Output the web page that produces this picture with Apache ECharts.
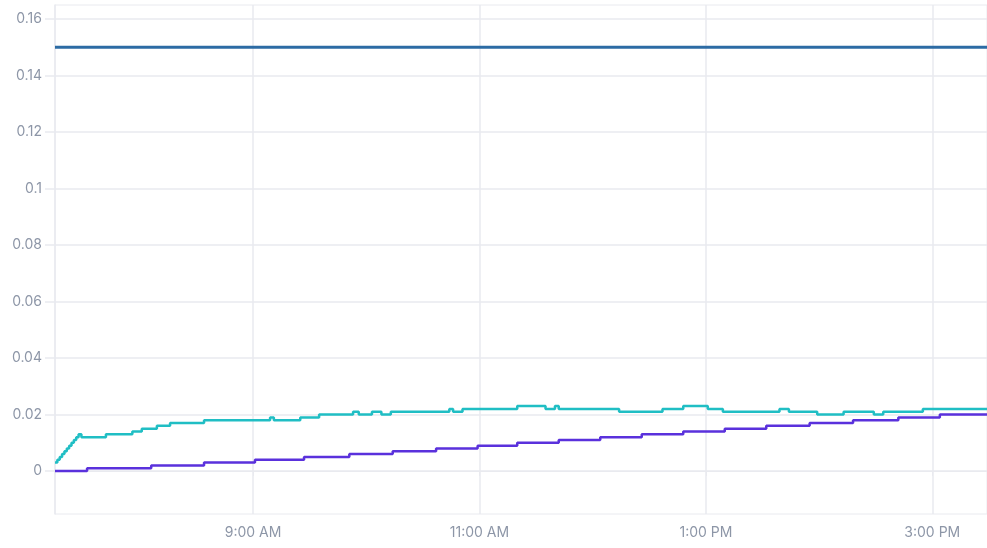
<!DOCTYPE html>
<html>
<head>
<meta charset="utf-8">
<style>
  html, body { margin: 0; padding: 0; background: #fff; }
  #chart { width: 987px; height: 548px; }
</style>
<script src="https://cdn.jsdelivr.net/npm/echarts@6/dist/echarts.min.js"></script>
</head>
<body>
<div id="chart"></div>
<script>
  // time of day for the x axis
  const xStart = '07:15'
  const xEnd = '15:29'
  const xTicks = ['09:00', '11:00', '13:00', '15:00']
  const yTicks = [0, 0.02, 0.04, 0.06, 0.08, 0.1, 0.12, 0.14, 0.16]

  // flat limit line
  const limitTimes = ['07:15', '15:29']
  const limitValues = [0.15, 0.15]

  // teal series (step)
  const tealTimes = [
    '07:15:00', '07:16:15', '07:17:30', '07:18:45', '07:20:00', '07:21:15',
    '07:22:30', '07:23:45', '07:25:00', '07:26:15', '07:27:30',
    '07:29', '07:42', '07:56', '08:01', '08:09', '08:16', '08:34',
    '09:09', '09:11', '09:25', '09:35', '09:53', '09:56', '10:03', '10:08',
    '10:13', '10:44', '10:46', '10:51', '11:20', '11:35', '11:40', '11:42',
    '12:14', '12:37', '12:48', '13:01', '13:09', '13:39', '13:44', '13:59',
    '14:13', '14:29', '14:34', '14:55', '15:29'
  ]
  const tealValues = [
    0.003, 0.004, 0.005, 0.006, 0.007, 0.008,
    0.009, 0.010, 0.011, 0.012, 0.013,
    0.012, 0.013, 0.014, 0.015, 0.016, 0.017, 0.018,
    0.019, 0.018, 0.019, 0.020, 0.021, 0.020, 0.021, 0.020,
    0.021, 0.022, 0.021, 0.022, 0.023, 0.022, 0.023, 0.022,
    0.021, 0.022, 0.023, 0.022, 0.021, 0.022, 0.021, 0.020,
    0.021, 0.020, 0.021, 0.022, 0.022
  ]

  // purple series (step)
  const purpleTimes = [
    '07:15', '07:32', '08:06', '08:34', '09:01', '09:27', '09:51', '10:14',
    '10:37', '10:59', '11:20', '11:42', '12:04', '12:26', '12:48', '13:10',
    '13:32', '13:55', '14:18', '14:42', '15:04', '15:29'
  ]
  const purpleValues = [
    0, 0.001, 0.002, 0.003, 0.004, 0.005, 0.006, 0.007,
    0.008, 0.009, 0.010, 0.011, 0.012, 0.013, 0.014, 0.015,
    0.016, 0.017, 0.018, 0.019, 0.020, 0.020
  ]

  // 'HH:MM[:SS]' -> hours since midnight
  function toHours(s) {
    const p = s.split(':').map(Number)
    return p[0] + p[1] / 60 + (p[2] || 0) / 3600
  }
  function pairs(times, values) {
    return times.map((t, i) => [toHours(t), values[i]])
  }
  function timeLabel(v) {
    let h = Math.floor(v + 1e-9)
    const m = Math.round((v - h) * 60)
    const ap = h >= 12 ? 'PM' : 'AM'
    h = h % 12
    if (h === 0) h = 12
    return h + ':' + (m < 10 ? '0' + m : m) + ' ' + ap
  }

  const gridColor = '#e9eaef'
  const labelColor = '#8d96a7'
  const font = 'Inter, "Noto Sans", sans-serif'

  const chart = echarts.init(document.getElementById('chart'))
  chart.setOption({
    animation: false,
    grid: {
      left: 55,
      right: 0,
      top: 5,
      bottom: 34,
      show: true,
      borderColor: gridColor,
      borderWidth: 1
    },
    xAxis: {
      type: 'value',
      min: toHours(xStart),
      max: toHours(xEnd),
      axisLine: { show: true, lineStyle: { color: gridColor, width: 1 } },
      axisTick: {
        show: true,
        length: 5,
        customValues: xTicks.map(toHours),
        lineStyle: { color: gridColor }
      },
      axisLabel: {
        customValues: xTicks.map(toHours),
        formatter: timeLabel,
        color: labelColor,
        fontSize: 14,
        fontFamily: font,
        margin: 12
      },
      splitLine: { show: true, lineStyle: { color: gridColor, width: 1.5 } }
    },
    yAxis: {
      type: 'value',
      min: -0.0152,
      max: 0.165,
      axisLine: { show: true, lineStyle: { color: gridColor, width: 1.5 } },
      axisTick: {
        show: true,
        length: 10,
        customValues: yTicks,
        lineStyle: { color: gridColor, width: 1.5 }
      },
      axisLabel: {
        customValues: yTicks,
        color: labelColor,
        fontSize: 14,
        fontFamily: font,
        margin: 13
      },
      splitLine: { show: true, lineStyle: { color: gridColor, width: 1.5 } }
    },
    series: [
      {
        type: 'line',
        data: pairs(limitTimes, limitValues),
        showSymbol: false,
        lineStyle: { color: '#2c6ba4', width: 3 }
      },
      {
        type: 'line',
        step: 'end',
        data: pairs(tealTimes, tealValues),
        showSymbol: false,
        lineStyle: { color: '#20bec4', width: 2.5 }
      },
      {
        type: 'line',
        step: 'end',
        data: pairs(purpleTimes, purpleValues),
        showSymbol: false,
        lineStyle: { color: '#5a31dc', width: 2.5 }
      }
    ]
  })
</script>
</body>
</html>
